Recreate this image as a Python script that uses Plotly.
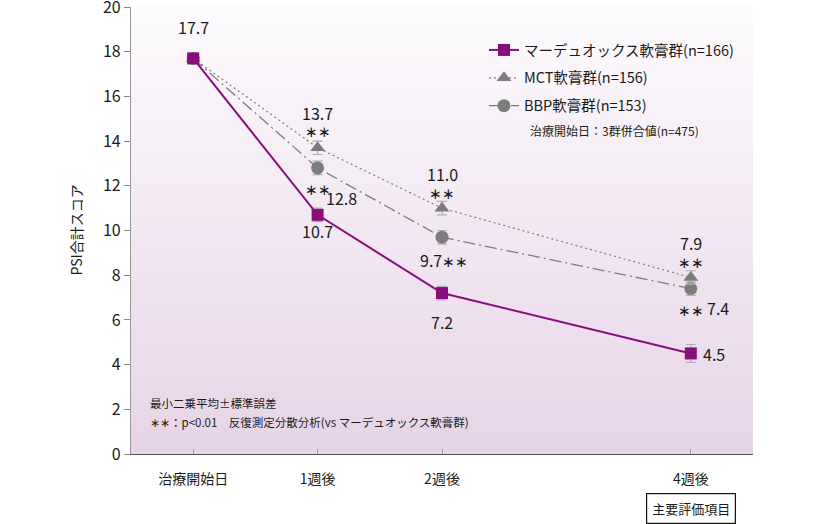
import plotly.graph_objects as go

# ---- data ----
weeks = [0, 1, 2, 4]
tick_labels = ["治療開始日", "1週後", "2週後", "4週後"]

mar_name = "マーデュオックス軟膏群(n=166)"
mct_name = "MCT軟膏群(n=156)"
bbp_name = "BBP軟膏群(n=153)"

mar_vals = [17.7, 10.7, 7.2, 4.5]
mct_vals = [17.7, 13.7, 11.0, 7.9]
bbp_vals = [17.7, 12.8, 9.7, 7.4]

mar_se = [0, 0.3, 0.3, 0.4]
mct_se = [0, 0.3, 0.3, 0.3]
bbp_se = [0, 0.3, 0.3, 0.3]

PURPLE = "#880e7c"
GREY = "#7c7c7c"
ERR = "#b0b0b0"
FONT = "Noto Sans CJK JP"
TXT = "#1a1a1a"
AST = "∗∗"

fig = go.Figure()

fig.add_trace(go.Scatter(
    x=weeks, y=bbp_vals, name=bbp_name, mode="lines+markers", legendrank=3,
    legendgroup="c",
    line=dict(color=GREY, width=1.3, dash="12px,4px,2px,4px"),
    marker=dict(symbol="circle", size=13, color=GREY),
    error_y=dict(type="data", array=bbp_se, color=ERR, thickness=1.2, width=5),
))
fig.add_trace(go.Scatter(
    x=weeks, y=mct_vals, name=mct_name, mode="lines+markers", legendrank=2,
    legendgroup="b",
    line=dict(color=GREY, width=1.2, dash="2px,3px"),
    marker=dict(symbol="triangle-up", size=13, color=GREY),
    error_y=dict(type="data", array=mct_se, color=ERR, thickness=1.2, width=5),
))
fig.add_trace(go.Scatter(
    x=weeks, y=mar_vals, name=mar_name, mode="lines+markers", legendrank=1,
    legendgroup="a",
    line=dict(color=PURPLE, width=2),
    marker=dict(symbol="square", size=12, color=PURPLE),
    error_y=dict(type="data", array=mar_se, color=ERR, thickness=1.2, width=5),
))

# ---- gradient plot background ----
shapes = []
n = 80
top = (253, 251, 253)
bot = (231, 212, 231)
for i in range(n):
    t = (i + 0.5) / n
    c = tuple(round(top[k] + (bot[k] - top[k]) * t) for k in range(3))
    shapes.append(dict(
        type="rect", xref="paper", yref="paper", layer="below",
        x0=0, x1=1, y0=1 - (i + 1) / n, y1=1 - i / n + 0.002,
        line=dict(width=0), fillcolor="rgb(%d,%d,%d)" % c,
    ))

# ---- value labels ----
ann = []
def lab(x, y, text, xs=0, ys=0, size=16):
    ann.append(dict(x=x, y=y, xref="x", yref="y", text=text, showarrow=False,
                    xshift=xs, yshift=ys, font=dict(size=size, color=TXT, family=FONT)))

AS = 15
lab(weeks[0], mar_vals[0], f"{mar_vals[0]:.1f}", ys=31)
# week 1
lab(weeks[1], mct_vals[1], f"{mct_vals[1]:.1f}", ys=35)
lab(weeks[1], mct_vals[1], AST, ys=17, size=AS)
lab(weeks[1], bbp_vals[1], AST, ys=-21, size=AS)
lab(weeks[1], bbp_vals[1], f"{bbp_vals[1]:.1f}", xs=24, ys=-30)
lab(weeks[1], mar_vals[1], f"{mar_vals[1]:.1f}", ys=-16)
# week 2
lab(weeks[2], mct_vals[2], f"{mct_vals[2]:.1f}", ys=34)
lab(weeks[2], mct_vals[2], AST, ys=16, size=AS)
lab(weeks[2], bbp_vals[2],
    f"{bbp_vals[2]:.1f}<span style='font-size:{AS}px'>{AST}</span>", xs=2, ys=-23)
lab(weeks[2], mar_vals[2], f"{mar_vals[2]:.1f}", ys=-29)
# week 4
lab(weeks[3], mct_vals[3], f"{mct_vals[3]:.1f}", ys=34)
lab(weeks[3], mct_vals[3], AST, ys=16, size=AS)
lab(weeks[3], bbp_vals[3], AST, ys=-21, size=AS)
lab(weeks[3], bbp_vals[3], f"{bbp_vals[3]:.1f}", xs=27, ys=-19)
lab(weeks[3], mar_vals[3], f"{mar_vals[3]:.1f}", xs=23, ys=-1)

# notes
ann.append(dict(xref="paper", yref="paper", x=(528 - 131) / 622, y=(454 - 130) / 447,
                xanchor="left", yanchor="middle", showarrow=False,
                text="治療開始日：3群併合値(n=475)",
                font=dict(size=12, color=TXT, family=FONT)))
ann.append(dict(xref="paper", yref="paper", x=(148 - 131) / 622, y=(454 - 403) / 447,
                xanchor="left", yanchor="middle", showarrow=False,
                text="最小二乗平均±標準誤差",
                font=dict(size=11.5, color=TXT, family=FONT)))
ann.append(dict(xref="paper", yref="paper", x=(148 - 131) / 622, y=(454 - 422) / 447,
                xanchor="left", yanchor="middle", showarrow=False,
                text=AST + "：p<0.01　反復測定分散分析(vs マーデュオックス軟膏群)",
                font=dict(size=11.5, color=TXT, family=FONT)))
ann.append(dict(xref="paper", yref="paper", x=(75 - 131) / 622, y=0.5,
                xanchor="center", yanchor="middle", showarrow=False, textangle=-90,
                text="PSI合計スコア",
                font=dict(size=14, color=TXT, family=FONT)))
ann.append(dict(xref="paper", yref="paper", x=(691 - 131) / 622, y=(454 - 508) / 447,
                xanchor="center", yanchor="middle", showarrow=False,
                text="主要評価項目", bordercolor="#111", borderwidth=1.2, borderpad=5,
                bgcolor="white",
                font=dict(size=13, color=TXT, family=FONT)))

fig.update_layout(
    width=818, height=524,
    margin=dict(l=131, r=65, t=7, b=70),
    paper_bgcolor="white",
    plot_bgcolor="rgba(0,0,0,0)",
    shapes=shapes,
    annotations=ann,
    font=dict(family=FONT, color=TXT),
    showlegend=True,
    legend=dict(x=(484 - 131) / 622, y=(454 - 34) / 447, xanchor="left", yanchor="top",
                bgcolor="rgba(0,0,0,0)", font=dict(size=14.5, color=TXT, family=FONT),
                tracegroupgap=6, itemwidth=30),
    xaxis=dict(range=[-0.5, 4.5], tickvals=weeks, ticktext=tick_labels,
               showgrid=False, zeroline=False, showline=True, linecolor="#555",
               linewidth=1.3, ticks="inside", ticklen=5, tickcolor="#999",
               automargin=False,
               ticklabelstandoff=12, tickfont=dict(size=14, color=TXT, family=FONT)),
    yaxis=dict(range=[0, 20], dtick=2, showgrid=False, zeroline=False,
               showline=True, linecolor="#999", linewidth=1.3, ticks="outside",
               ticklen=6, tickcolor="#888", ticklabeloverflow="allow",
               automargin=False,
               tickfont=dict(size=16, color=TXT, family=FONT)),
)

fig.write_html("out.html", config={"displayModeBar": False},
               post_script="document.body.style.margin='0';document.body.style.overflow='hidden';")
